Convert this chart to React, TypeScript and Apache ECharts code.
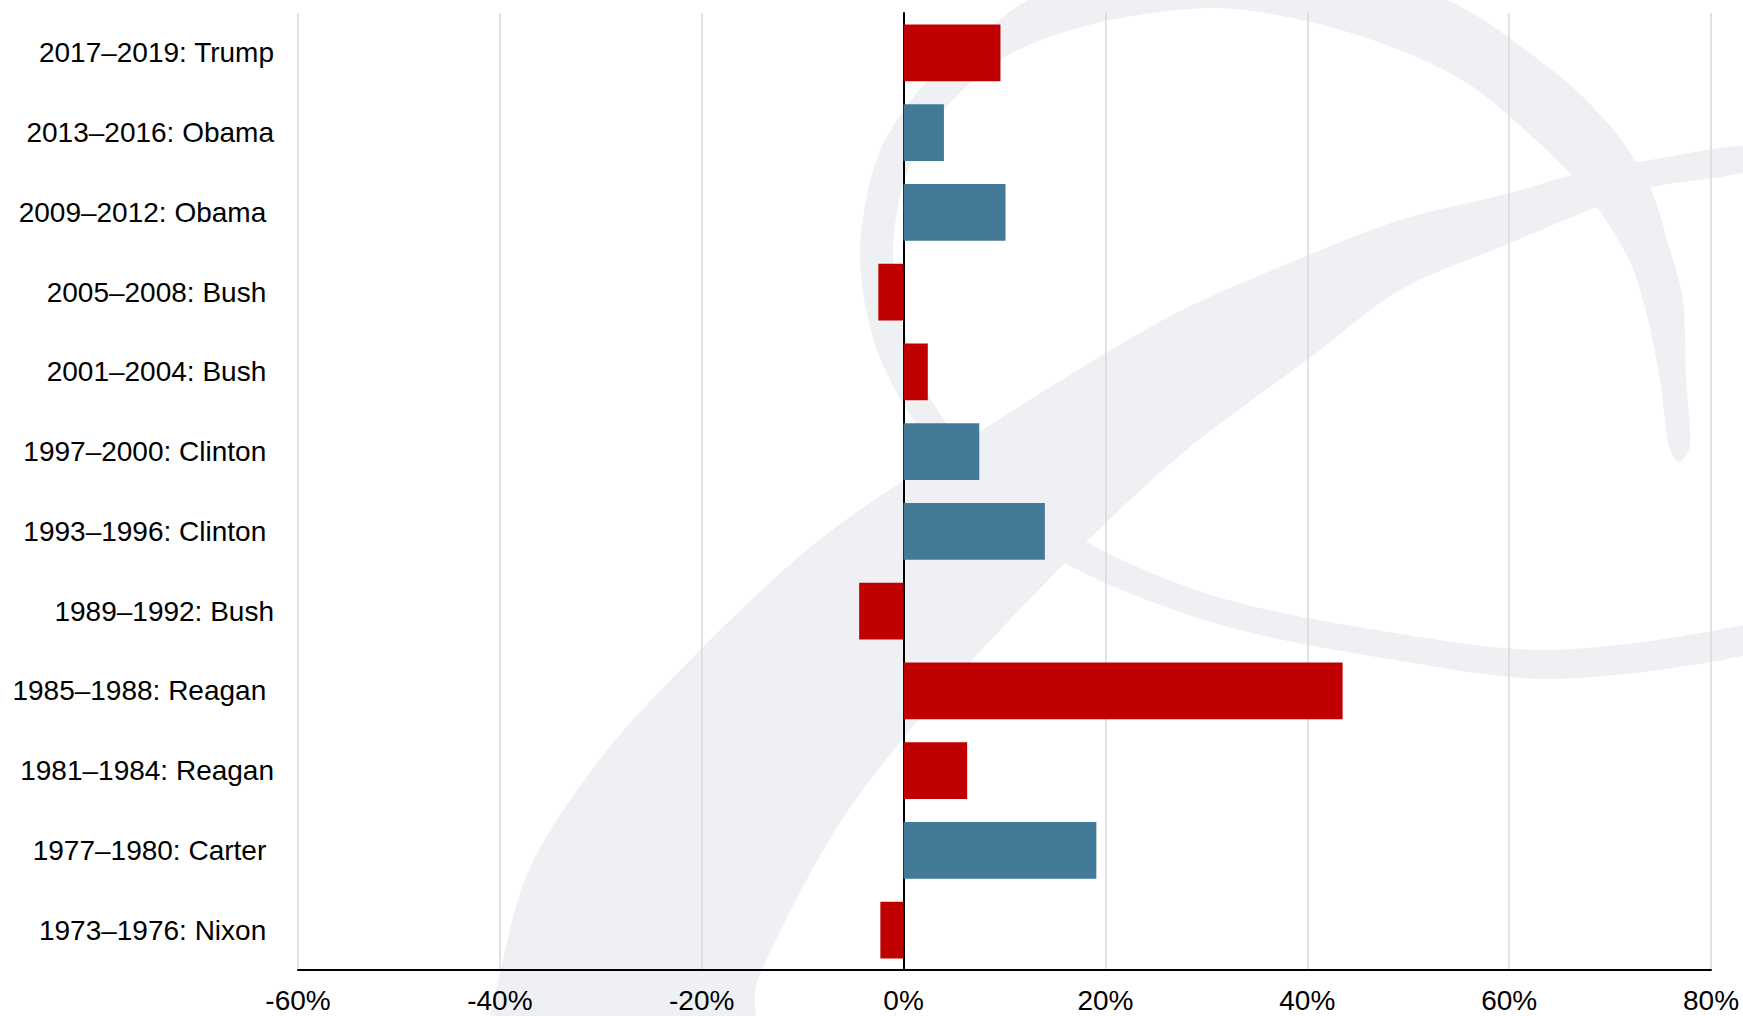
import React, { useEffect, useRef } from "react";
import * as echarts from "echarts";

const categories = [
  "2017–2019: Trump",
  "2013–2016: Obama",
  "2009–2012: Obama ",
  "2005–2008: Bush ",
  "2001–2004: Bush ",
  "1997–2000: Clinton ",
  "1993–1996: Clinton ",
  "1989–1992: Bush",
  "1985–1988: Reagan ",
  "1981–1984: Reagan",
  "1977–1980: Carter ",
  "1973–1976: Nixon ",
];
const values = [9.6, 4.0, 10.1, -2.5, 2.4, 7.5, 14.0, -4.4, 43.5, 6.3, 19.1, -2.3];
const parties = ["R", "D", "D", "R", "R", "D", "D", "R", "R", "R", "D", "R"];
const partyColors: Record<string, string> = { R: "#C00000", D: "#437A97" };

const ringPts = [
  [1679, 462], [1690, 446], [1686, 380], [1683, 300], [1670, 250], [1650, 187], [1612, 128],
  [1552, 70], [1433, -5], [1215, -30], [1040, -5], [980, 36], [920, 89], [878, 156], [860, 250],
  [872, 335], [902, 402], [960, 480], [1065, 563], [1221, 625], [1401, 661], [1552, 679],
  [1743, 656], [1800, 630], [1800, 600], [1743, 625], [1552, 650], [1401, 634], [1221, 598],
  [1086, 542], [990, 470], [938, 411], [905, 335], [893, 250], [908, 170], [950, 103],
  [1010, 54], [1101, 22], [1215, 8], [1311, 22], [1400, 50], [1467, 83], [1517, 123],
  [1567, 170], [1597, 207], [1630, 262], [1648, 320], [1660, 380], [1669, 446],
];
const swooshPts = [
  [484, 1040], [490, 1016], [528, 872], [604, 754], [706, 644], [808, 549], [900, 483],
  [1161, 321], [1311, 254], [1400, 220], [1510, 193], [1573, 175], [1633, 163], [1760, 145],
  [1760, 168], [1653, 187], [1597, 207], [1510, 243], [1400, 290], [1311, 357], [1191, 446],
  [1086, 542], [987, 644], [910, 730], [834, 832], [757, 982], [748, 1040],
];

export default function App() {
  const ref = useRef<HTMLDivElement>(null);
  useEffect(() => {
    if (!ref.current) return;
    const chart = echarts.init(ref.current, null, { renderer: "svg" });
    const wmColor = "#EEF0F3";
    chart.setOption({
      animation: false,
      backgroundColor: "#ffffff",
      graphic: [
        { type: "polygon", z: -10, silent: true, shape: { points: swooshPts, smooth: 0.3 }, style: { fill: wmColor } },
        { type: "polygon", z: -10, silent: true, shape: { points: ringPts, smooth: 0.3 }, style: { fill: wmColor } },
      ],
      grid: { left: 298, right: 32, top: 13, bottom: 46, containLabel: false },
      xAxis: {
        type: "value",
        min: -60,
        max: 80,
        interval: 20,
        axisLine: { show: true, onZero: false, lineStyle: { color: "#000", width: 2 } },
        axisTick: { show: false },
        splitLine: { show: true, lineStyle: { color: "#D9D9D9", width: 1.5 } },
        axisLabel: {
          formatter: (v: number) => `${v}%`,
          color: "#000",
          fontSize: 28,
          fontFamily: "Liberation Sans, Arial, sans-serif",
          margin: 16,
        },
      },
      yAxis: {
        type: "category",
        inverse: true,
        data: categories,
        axisLine: { show: true, onZero: true, lineStyle: { color: "#000", width: 2 } },
        axisTick: { show: false },
        splitLine: { show: false },
        axisLabel: {
          color: "#000",
          fontSize: 28,
          fontFamily: "Liberation Sans, Arial, sans-serif",
          margin: 24,
        },
      },
      series: [
        {
          type: "bar",
          barCategoryGap: "29%",
          data: values.map((v, i) => ({ value: v, itemStyle: { color: partyColors[parties[i]] } })),
        },
      ],
    });
    return () => chart.dispose();
  }, []);
  return (
    <div
      ref={ref}
      style={{ position: "fixed", left: 0, top: 0, width: 1743, height: 1016 }}
    />
  );
}
